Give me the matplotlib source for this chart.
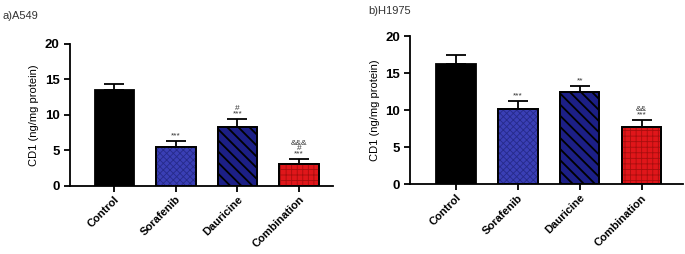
import numpy as np
import matplotlib.pyplot as plt

plt.rcParams['font.family'] = ['Liberation Sans', 'DejaVu Sans']
plt.rcParams['hatch.linewidth'] = 0.7

groups = ['Control', 'Sorafenib', 'Dauricine', 'Combination']

a549_mean = [13.5, 5.45, 8.3, 3.05]
a549_err = [0.85, 0.85, 1.1, 0.75]
a549_marks = ['', '***', '#\n***', '&&&\n#\n***']

h1975_mean = [16.3, 10.2, 12.4, 7.8]
h1975_err = [1.1, 1.1, 0.9, 0.9]
h1975_marks = ['', '***', '**', '&&\n***']

face = ['#000000', '#3a3fb5', '#1c1f86', '#e0161a']
hatch_col = ['#000000', '#262a8a', '#000000', '#a80e0e']
hatches = [None, 'xxxxx', '\\\\\\', '+++']
hatch_lw = [0.7, 0.6, 1.3, 0.6]


def panel(ax, means, errs, marks, xlim, title, title_xy):
    x = np.arange(len(groups))
    for i in range(len(groups)):
        ax.bar(x[i], means[i], width=0.64, color=face[i], edgecolor='black',
               linewidth=1.3, zorder=2)
        if hatches[i]:
            b = ax.bar(x[i], means[i], width=0.64, color='none',
                       edgecolor=hatch_col[i], hatch=hatches[i], linewidth=0, zorder=3)
            for p in b:
                if hasattr(p, 'set_hatch_linewidth'):
                    p.set_hatch_linewidth(hatch_lw[i])
            ax.bar(x[i], means[i], width=0.64, color='none', edgecolor='black',
                   linewidth=1.3, zorder=4)
        ax.errorbar(x[i], means[i], yerr=[[0], [errs[i]]], color='black',
                    capsize=7, elinewidth=1.3, capthick=1.3, zorder=1)
        if marks[i]:
            ax.text(x[i], means[i] + errs[i] + 0.2, marks[i], ha='center',
                    va='bottom', fontsize=6, linespacing=0.7, color='#333333')
    ax.set_xlim(*xlim)
    ax.set_ylim(0, 20)
    ax.set_yticks([0, 5, 10, 15, 20])
    ax.set_xticks(x)
    ax.set_xticklabels(groups, rotation=45, ha='right', rotation_mode='anchor',
                       fontweight='bold', fontsize=8)
    for t in ax.get_yticklabels():
        t.set_fontweight('bold')
        t.set_fontsize(9.5)
    ax.set_ylabel('CD1 (ng/mg protein)', fontsize=8)
    ax.spines['top'].set_visible(False)
    ax.spines['right'].set_visible(False)
    ax.spines['left'].set_linewidth(1.3)
    ax.spines['bottom'].set_linewidth(1.3)
    ax.tick_params(width=1.3, length=4)
    ax.tick_params(axis='x', pad=2)
    ax.figure.text(title_xy[0], title_xy[1], title, fontsize=8, color='#333333')


fig = plt.figure(figsize=(6.85, 2.54), dpi=100)
ax1 = fig.add_axes([0.102, 0.268, 0.384, 0.559])
ax2 = fig.add_axes([0.599, 0.274, 0.398, 0.584])

panel(ax1, a549_mean, a549_err, a549_marks, (-0.72, 3.55), 'a)A549', (0.003, 0.925))
panel(ax2, h1975_mean, h1975_err, h1975_marks, (-0.74, 3.67), 'b)H1975', (0.538, 0.945))

fig.savefig('out.png', dpi=100)
